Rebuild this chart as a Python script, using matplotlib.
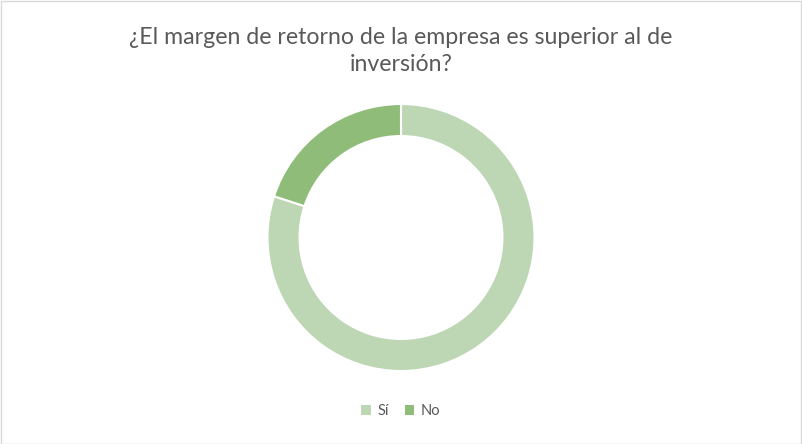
import matplotlib
matplotlib.use("Agg")
import matplotlib.pyplot as plt
from matplotlib.patches import Rectangle

title = "¿El margen de retorno de la empresa es superior al de\ninversión?"
categories = ["Sí", "No"]
values = [80, 20]
colors = ["#BDD7B4", "#8FBC79"]

plt.rcParams['font.family'] = ['Lato', 'DejaVu Sans']

W, H = 802, 444
fig = plt.figure(figsize=(W / 100, H / 100), dpi=100)
fig.patch.set_facecolor("white")

# border
fig.add_artist(Rectangle((0.5 / W, 0.5 / H), 1 - 1.5 / W, 1 - 1.5 / H,
                         transform=fig.transFigure, fill=False,
                         edgecolor="#D9D9D9", linewidth=1))

cx, cy, r = 401, 444 - 237.5, 133.5
ax = fig.add_axes([(cx - r) / W, (cy - r) / H, 2 * r / W, 2 * r / H])
wedges, _ = ax.pie(values, colors=colors, startangle=90, counterclock=False,
                   radius=1, wedgeprops=dict(width=0.24, edgecolor="white", linewidth=1.5))
ax.set_xlim(-1, 1)
ax.set_ylim(-1, 1)
ax.set_aspect("equal")
ax.axis("off")

fig.text(0.5, 1 - 51 / H, title, ha="center", va="center", fontsize=16.7,
         color="#595959", linespacing=1.3)

leg = fig.legend(wedges, categories, loc="center", bbox_to_anchor=(0.5, 1 - 411 / H),
                 ncol=2, frameon=False, fontsize=10.5, handlelength=0.65, handleheight=0.65,
                 handletextpad=0.45, columnspacing=1.1)
for t in leg.get_texts():
    t.set_color("#595959")
for h in leg.legend_handles:
    h.set_edgecolor("none")

fig.savefig("out.png", dpi=100, facecolor="white")
